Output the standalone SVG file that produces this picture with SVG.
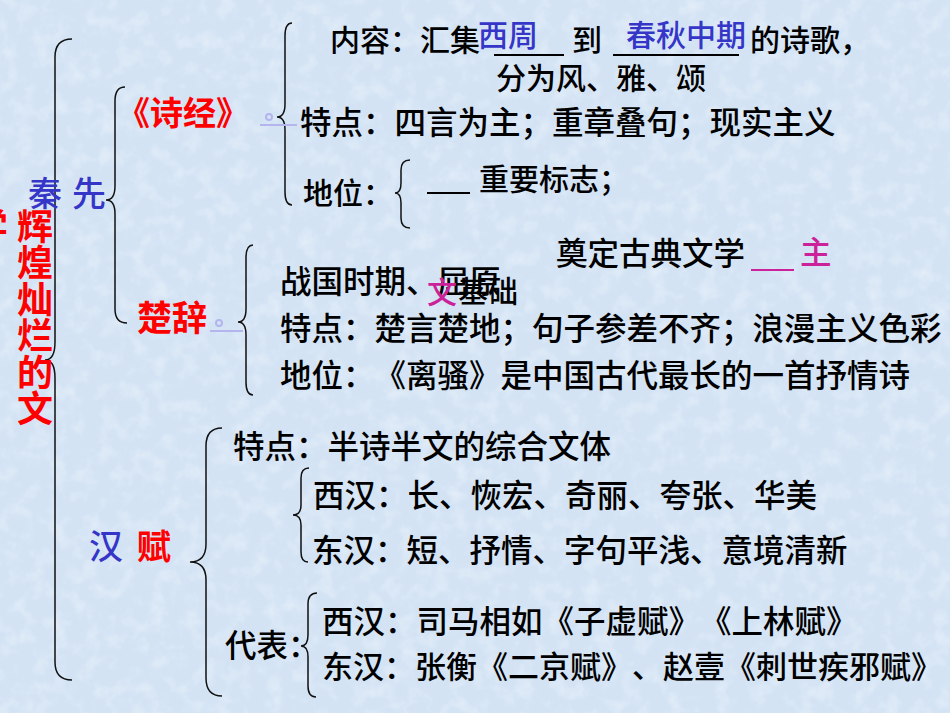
<svg xmlns="http://www.w3.org/2000/svg" width="950" height="713" viewBox="0 0 950 713">
<defs>
<filter id="tex" x="0" y="0" width="100%" height="100%">
<feTurbulence type="fractalNoise" baseFrequency="0.06" numOctaves="3" seed="7" result="n"/>
<feColorMatrix in="n" type="matrix" values="0 0 0 0 1  0 0 0 0 1  0 0 0 0 1  0 0 0 1.8 -0.8" result="w"/>
<feComposite in="w" in2="SourceGraphic" operator="in"/>
</filter>
</defs>
<style>
.t{font-family:"Noto Sans CJK SC","Noto Sans CJK JP",sans-serif;font-size:31.5px;fill:#000;font-weight:500;text-spacing-trim:space-all}
.s{font-size:30px}
.blue{fill:#3535c8}
.red{fill:#ff0000}
.mag{fill:#cc2299}
.big{font-size:34px}
.hd{font-weight:700}
.br{fill:none;stroke:#111;stroke-width:1.5}
.lav{fill:none;stroke:#b4b4ee;stroke-width:2}
.ul{stroke:#000;stroke-width:2}
</style>
<rect width="950" height="713" fill="#d3e3f4"/>
<rect width="950" height="713" fill="#d3e3f4" filter="url(#tex)" opacity="0.4"/>

<g id="connectors">
<path class="br" d="M72,39 Q55,39 55,57 L55,342 Q55,360 45,360 Q55,360 55,378 L55,662 Q55,680 72,680"/>
<path class="br" d="M125,87 Q115,87 115,101 L115,186 Q115,200 106,200 Q115,200 115,214 L115,309 Q115,323 127,323"/>
<path class="br" d="M292,23 Q285,23 285,36 L285,104 Q285,117 277,117 Q285,117 285,130 L285,192 Q285,205 292,205"/>
<path class="br" d="M410,160 Q401,160 401,170 L401,183 Q401,193 395,193 Q401,193 401,203 L401,218 Q401,228 410,228"/>
<path class="br" d="M253,245 Q246,245 246,258 L246,309 Q246,322 238,322 Q246,322 246,335 L246,382 Q246,395 253,395"/>
<path class="br" d="M222,428 Q206,428 206,446 L206,544 Q206,562 190,562 Q206,562 206,580 L206,678 Q206,696 222,696"/>
<path class="br" d="M309,468 Q301,468 301,478 L301,505 Q301,515 293,515 Q301,515 301,525 L301,552 Q301,562 308,562"/>
<path class="br" d="M317,593 Q308,593 308,604 L308,635 Q308,646 301,646 Q308,646 308,657 L308,686 Q308,697 316,697"/>
<line class="lav" x1="260" y1="125" x2="297" y2="125"/>
<circle class="lav" cx="269" cy="117" r="3"/>
<line class="lav" x1="210" y1="331" x2="243" y2="331"/>
<circle class="lav" cx="219" cy="323" r="3"/>
</g>

<g id="title">
<text class="t red hd" style="font-size:36px" x="-28" y="240">学</text>
<text class="t red hd" style="font-size:36px" x="17" y="239.5">辉</text>
<text class="t red hd" style="font-size:36px" x="17" y="276">煌</text>
<text class="t red hd" style="font-size:36px" x="17" y="312.5">灿</text>
<text class="t red hd" style="font-size:36px" x="17" y="349">烂</text>
<text class="t red hd" style="font-size:36px" x="17" y="385.5">的</text>
<text class="t red hd" style="font-size:36px" x="17" y="422">文</text>
</g>

<g id="xianqin">
<text class="t blue big" x="28" y="206">秦</text>
<text class="t blue big" x="72" y="206">先</text>
</g>

<g id="shijing">
<text class="t red hd" style="font-size:33px" x="117" y="125">《诗经》</text>
</g>

<g id="shijing-content">
<text class="t s" x="330" y="51">内容：汇集</text>
<text class="t blue s" x="478" y="46">西周</text>
<line class="ul" x1="494" y1="55" x2="564" y2="55"/>
<text class="t s" x="572" y="51">到</text>
<line class="ul" x1="613" y1="55" x2="739" y2="55"/>
<text class="t blue s" x="626" y="46">春秋中期</text>
<text class="t s" x="750" y="51">的诗歌，</text>
<text class="t s" x="496" y="89">分为风、雅、颂</text>
</g>

<g id="shijing-feature">
<text class="t" x="300" y="134">特点：四言为主；重章叠句；现实主义</text>
</g>

<g id="shijing-status">
<text class="t s" x="303" y="204">地位：</text>
<line class="ul" x1="427" y1="193" x2="470" y2="193"/>
<text class="t s" x="479" y="190">重要标志；</text>
<text class="t" x="556" y="265">奠定古典文学</text>
<line stroke="#cc2299" stroke-width="2" x1="751" y1="270" x2="794" y2="270"/>
<text class="t mag" x="800" y="264">主</text>
</g>

<g id="chuci">
<text class="t red hd" style="font-size:35px" x="137" y="331">楚辞</text>
</g>

<g id="chuci-content">
<text class="t" x="280" y="293">战国时期、屈原</text>
<text class="t mag s" x="427" y="303">文</text>
<text class="t s" x="458" y="302">基础</text>
<text class="t" x="280" y="340">特点：楚言楚地；句子参差不齐；浪漫主义色彩</text>
<text class="t" x="280" y="387">地位：《离骚》是中国古代最长的一首抒情诗</text>
</g>

<g id="hanfu">
<text class="t blue big" x="89" y="559">汉</text>
<text class="t red big hd" x="137" y="559">赋</text>
</g>

<g id="hanfu-feature">
<text class="t" x="233" y="458">特点：半诗半文的综合文体</text>
<text class="t" x="313" y="507">西汉：长、恢宏、奇丽、夸张、华美</text>
<text class="t" x="312" y="562">东汉：短、抒情、字句平浅、意境清新</text>
</g>

<g id="hanfu-rep">
<text class="t" x="225" y="657">代表：</text>
<text class="t" x="322" y="633">西汉：司马相如《子虚赋》《上林赋》</text>
<text class="t" style="font-size:31px" x="322" y="678">东汉：张衡《二京赋》、赵壹《刺世疾邪赋》</text>
</g>
</svg>
